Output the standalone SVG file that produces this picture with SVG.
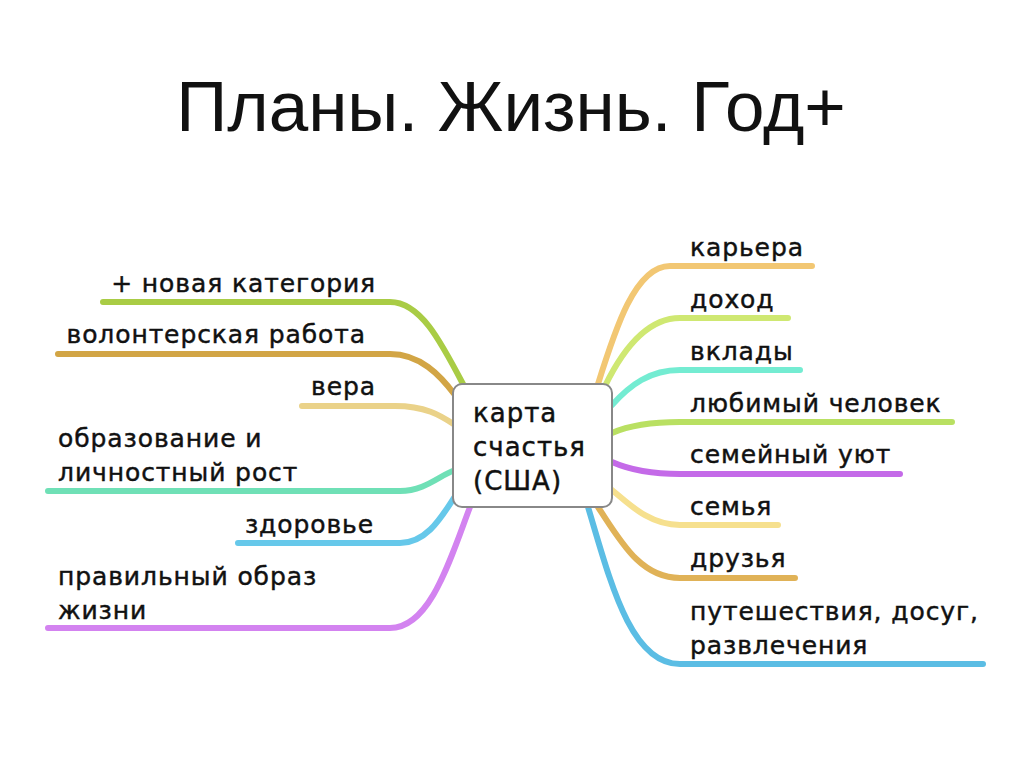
<svg xmlns="http://www.w3.org/2000/svg" width="1024" height="768" viewBox="0 0 1024 768">
<style>
.t{font-family:"DejaVu Sans","Liberation Sans",sans-serif;font-size:25px;letter-spacing:0.9px;fill:#111;stroke:#111;stroke-width:0.45px}
.b{font-size:26px;letter-spacing:1px}
.r{text-anchor:end}
.c{fill:none;stroke-width:6;stroke-linecap:round}
</style>
<rect width="1024" height="768" fill="#fff"/>
<text id="title" x="511" y="131" text-anchor="middle" style="font-family:'Liberation Sans',sans-serif;font-size:71px;fill:#111">Планы. Жизнь. Год+</text>
<g id="connectors">
<path class="c" stroke="#a9cc45" d="M103 302 H390 C420 302 440 340 463 384"/>
<path class="c" stroke="#d2a545" d="M58 354 H390 C420 354 440 375 455 395"/>
<path class="c" stroke="#ead289" d="M302 406 H395 C425 406 440 415 455 425"/>
<path class="c" stroke="#6fe0b6" d="M48 491 H400 C425 491 440 475 455 470"/>
<path class="c" stroke="#66c8ea" d="M238 543 H400 C430 543 445 510 458 492"/>
<path class="c" stroke="#d383f0" d="M48 628 H390 C430 628 450 560 470 507"/>
<path class="c" stroke="#f2c773" d="M598 384 C615 330 635 266 670 266 H812"/>
<path class="c" stroke="#cfe872" d="M605 386 C625 345 650 318 680 318 H788"/>
<path class="c" stroke="#74ecd2" d="M612 405 C630 385 650 370 680 370 H800"/>
<path class="c" stroke="#b9e062" d="M612 433 C630 425 650 422 680 422 H952"/>
<path class="c" stroke="#c46ae8" d="M612 462 C630 470 650 474 680 474 H900"/>
<path class="c" stroke="#f6e08e" d="M612 490 C630 505 650 525 680 525 H778"/>
<path class="c" stroke="#e0b257" d="M598 507 C620 540 640 578 680 578 H795"/>
<path class="c" stroke="#5bbde4" d="M588 507 C610 580 630 664 680 664 H983"/>
</g>
<g id="center">
<rect x="453" y="384" width="159" height="123" rx="9" fill="#fff" stroke="#888" stroke-width="2"/>
<text class="t b" x="473" y="422">карта</text>
<text class="t b" x="473" y="456">счастья</text>
<text class="t b" x="473" y="490">(США)</text>
</g>
<g id="n-new"><text class="t r" x="376" y="292">+ новая категория</text></g>
<g id="n-volunteer"><text class="t r" x="366" y="343">волонтерская работа</text></g>
<g id="n-faith"><text class="t r" x="376" y="395">вера</text></g>
<g id="n-education"><text class="t" x="58" y="447">образование и</text><text class="t" x="58" y="481">личностный рост</text></g>
<g id="n-health"><text class="t r" x="374" y="533">здоровье</text></g>
<g id="n-lifestyle"><text class="t" x="58" y="585">правильный образ</text><text class="t" x="58" y="619">жизни</text></g>
<g id="n-career"><text class="t" x="690" y="256">карьера</text></g>
<g id="n-income"><text class="t" x="690" y="308">доход</text></g>
<g id="n-deposits"><text class="t" x="690" y="360">вклады</text></g>
<g id="n-beloved"><text class="t" x="690" y="412">любимый человек</text></g>
<g id="n-home"><text class="t" x="690" y="463">семейный уют</text></g>
<g id="n-family"><text class="t" x="690" y="515">семья</text></g>
<g id="n-friends"><text class="t" x="690" y="567">друзья</text></g>
<g id="n-travel"><text class="t" x="690" y="620">путешествия, досуг,</text><text class="t" x="690" y="654">развлечения</text></g>
</svg>
